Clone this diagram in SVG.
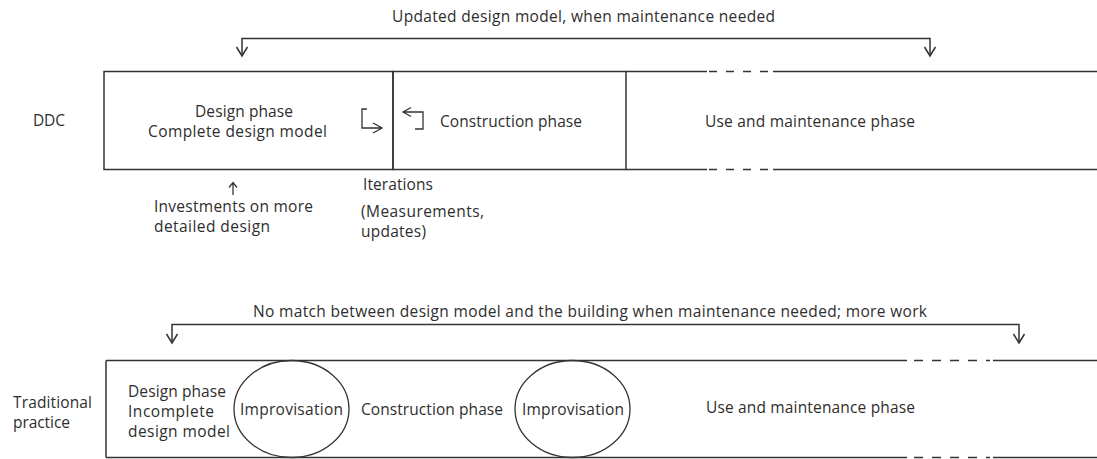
<svg xmlns="http://www.w3.org/2000/svg" width="1097" height="459" viewBox="0 0 1097 459">
<style>
text{font-family:"Open Sans","Noto Sans","DejaVu Sans",sans-serif;font-size:15.5px;fill:#2e2e2e}
.ln{fill:none;stroke:#333;stroke-width:1.5}
.dash{fill:none;stroke:#333;stroke-width:1.5;stroke-dasharray:8 9}
.thin{fill:none;stroke:#333;stroke-width:1.3}
</style>
<rect width="1097" height="459" fill="#fff"/>
<g id="row-labels">
<text x="33" y="126" textLength="32">DDC</text>
<text x="13" y="408" textLength="79">Traditional</text>
<text x="13" y="428" textLength="57">practice</text>
</g>
<g id="ddc-design">
<path class="ln" d="M104 71.5H393V169.5H104Z"/>
<text x="195" y="117" textLength="98">Design phase</text>
<text x="148" y="137" textLength="179">Complete design model</text>
</g>
<g id="ddc-construction">
<path class="ln" d="M393 71.5H626V169.5H393Z"/>
<text x="440" y="127" textLength="142">Construction phase</text>
</g>
<g id="ddc-use">
<path class="ln" d="M626 71.5H707M773 71.5H1097M626 169.5H707M773 169.5H1097"/>
<path class="dash" d="M709 71.5H771M709 169.5H771"/>
<text x="705" y="127" textLength="210">Use and maintenance phase</text>
</g>
<g id="trad-box">
<path class="ln" d="M106 360.5H907M993 360.5H1097M106 457.5H907M993 457.5H1097M106 360.5V457.5"/>
<path class="dash" d="M914 360.5H990M914 457.5H990" style="stroke-dasharray:9 9"/>
</g>
<g id="trad-design">
<text x="128" y="397" textLength="98">Design phase</text>
<text x="128" y="417" textLength="86">Incomplete</text>
<text x="128" y="437" textLength="102">design model</text>
</g>
<g id="trad-improv-1">
<ellipse class="thin" cx="291.5" cy="409" rx="57.5" ry="48.5"/>
<text x="240" y="415" textLength="103">Improvisation</text>
</g>
<g id="trad-construction">
<text x="361" y="415" textLength="142">Construction phase</text>
</g>
<g id="trad-improv-2">
<ellipse class="thin" cx="572.5" cy="409" rx="57.5" ry="48.5"/>
<text x="522" y="415" textLength="102">Improvisation</text>
</g>
<g id="trad-use">
<text x="706" y="413" textLength="209">Use and maintenance phase</text>
</g>
<g id="connectors">
<path class="ln" d="M242 56V38.5H930V56"/>
<path class="ln" d="M236.5 47L242 56L247.5 47M924.5 47L930 56L935.5 47"/>
<text x="392" y="22" textLength="383">Updated design model, when maintenance needed</text>
<path class="thin" d="M367 109H362V128H382M373 123L382 128L373 133"/>
<path class="thin" d="M403 112H423V129H415M411 107.5L403 112L411 116.5"/>
<path class="thin" d="M233 195V182.5M229 187.5L233 182.5L237 187.5"/>
<text x="154" y="212" textLength="159">Investments on more</text>
<text x="154" y="232" textLength="116">detailed design</text>
<text x="363" y="190" textLength="70">Iterations</text>
<text x="361" y="217" textLength="123">(Measurements,</text>
<text x="361" y="237" textLength="65">updates)</text>
<path class="ln" d="M172 343V324.5H1019V343"/>
<path class="ln" d="M166.5 334L172 343L177.5 334M1013.5 334L1019 343L1024.5 334"/>
<text x="253" y="317" textLength="674">No match between design model and the building when maintenance needed; more work</text>
</g>
</svg>
